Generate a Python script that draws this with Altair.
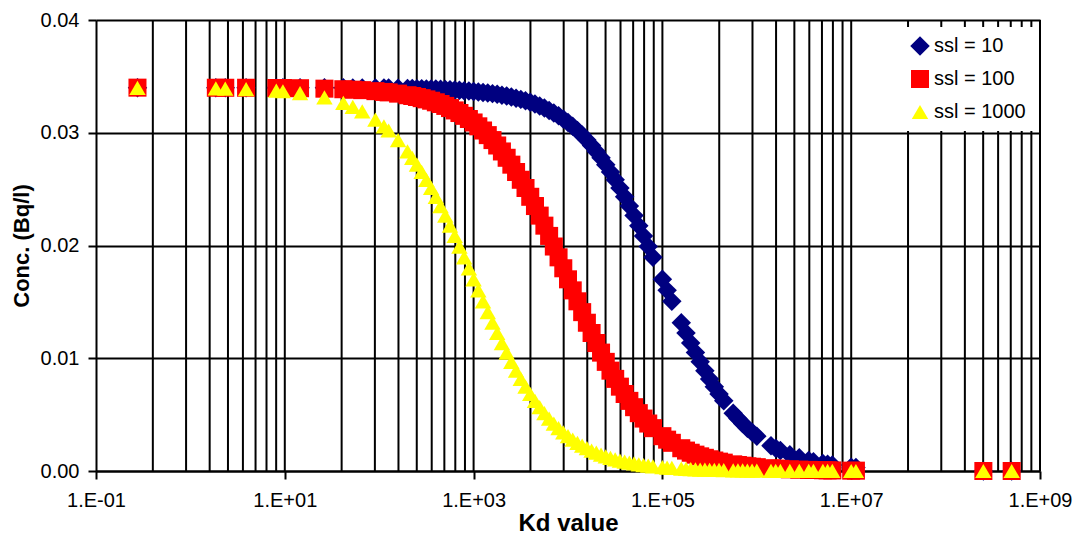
import altair as alt
import pandas as pd

# ---------------- data ----------------
series_names = ["ssl = 10", "ssl = 100", "ssl = 1000"]
series_colors = ["#000080", "#FF0000", "#FFFF00"]
series_shapes = ["diamond", "square", "triangle-up"]
series_sizes = [380, 270, 320]

kd = [0.275, 1.86, 2.34, 3.89, 8.13, 9.55, 14.5, 26.3, 41.7, 52.5, 66.1, 91.2,
      112.2, 125.9, 158.5, 199.5, 223.9, 251.2, 281.8, 316.2, 354.8, 398.1, 446.7,
      501.2, 562.3, 631.0, 707.9, 794.3, 891.3,
      1000, 1122, 1259, 1413, 1585, 1778, 1995, 2239, 2512, 2818, 3162, 3548, 3981,
      4467, 5012, 5623, 6310, 7079, 7943, 8913,
      10000, 11220, 12590, 14130, 15850, 17780, 19950, 22390, 25120, 28180, 31620,
      35480, 39810, 44670, 50120, 56230, 63100, 70790, 79430,
      100000, 112200, 125900, 158500, 177800, 199500, 223900, 251200, 281800, 316200,
      354800, 398100, 446700, 562300, 631000, 707900, 794300, 891300, 1000000,
      1413000, 1585000, 1778000, 2239000, 2818000, 3548000, 3981000, 5012000,
      5623000, 6310000,
      10000000, 11220000, 251200000, 501200000]

conc_ssl10 = [0.03400, 0.03400, 0.03400, 0.03400, 0.03400, 0.03400, 0.03400, 0.03399,
              0.03399, 0.03398, 0.03398, 0.03397,
              0.03396, 0.03396, 0.03395, 0.03393, 0.03392, 0.03391, 0.03390, 0.03389,
              0.03388, 0.03387, 0.03385, 0.03383, 0.03381, 0.03379, 0.03376, 0.03373, 0.03370,
              0.03366, 0.03362, 0.03358, 0.03353, 0.03347, 0.03341, 0.03333, 0.03326,
              0.03317, 0.03307, 0.03296, 0.03284, 0.03270, 0.03255, 0.03238, 0.03219,
              0.03198, 0.03175, 0.03150, 0.03122,
              0.03091, 0.03057, 0.03020, 0.02979, 0.02935, 0.02887, 0.02834, 0.02778,
              0.02717, 0.02652, 0.02583, 0.02510, 0.02432, 0.02350, 0.02265, 0.02176,
              0.02085, 0.01991, 0.01895,
              0.01700, 0.01602, 0.01505, 0.01315, 0.01224, 0.01135, 0.01050, 0.00968,
              0.00890, 0.00817, 0.00748, 0.00683, 0.00622, 0.00513, 0.00465, 0.00421,
              0.00380, 0.00343, 0.00309,
              0.00225, 0.00202, 0.00181, 0.00145, 0.00117, 0.00093, 0.00083, 0.00067,
              0.00059, 0.00053,
              0.00034, 0.00030, 0.00001, 0.0]

conc_ssl100 = [0.03400, 0.03399, 0.03399, 0.03399, 0.03397, 0.03397, 0.03395, 0.03391,
               0.03386, 0.03382, 0.03378, 0.03369,
               0.03362, 0.03358, 0.03347, 0.03333, 0.03326, 0.03317, 0.03307, 0.03296,
               0.03284, 0.03270, 0.03255, 0.03238, 0.03219, 0.03198, 0.03175, 0.03150, 0.03122,
               0.03091, 0.03057, 0.03020, 0.02979, 0.02935, 0.02887, 0.02834, 0.02778,
               0.02717, 0.02652, 0.02583, 0.02510, 0.02432, 0.02350, 0.02265, 0.02176,
               0.02085, 0.01991, 0.01895, 0.01798,
               0.01700, 0.01602, 0.01505, 0.01409, 0.01315, 0.01224, 0.01135, 0.01050,
               0.00968, 0.00890, 0.00817, 0.00748, 0.00683, 0.00622, 0.00566, 0.00513,
               0.00465, 0.00421, 0.00380,
               0.00309, 0.00278, 0.00250, 0.00202, 0.00181, 0.00162, 0.00145, 0.00130,
               0.00117, 0.00104, 0.00093, 0.00083, 0.00074, 0.00059, 0.00053, 0.00047,
               0.00042, 0.00038, 0.00034,
               0.00024, 0.00021, 0.00019, 0.00015, 0.00012, 0.00010, 0.00009, 0.00007,
               0.00006, 0.00005,
               0.00003, 0.00003, 0.0, 0.0]

conc_ssl1000 = [0.03399, 0.03394, 0.03392, 0.03387, 0.03373, 0.03368, 0.03352, 0.03313,
                0.03264, 0.03230, 0.03189, 0.03116,
                0.03057, 0.03020, 0.02935, 0.02834, 0.02778, 0.02717, 0.02652, 0.02583,
                0.02510, 0.02432, 0.02350, 0.02265, 0.02176, 0.02085, 0.01991, 0.01895, 0.01798,
                0.01700, 0.01602, 0.01505, 0.01409, 0.01315, 0.01224, 0.01135, 0.01050,
                0.00968, 0.00890, 0.00817, 0.00748, 0.00683, 0.00622, 0.00566, 0.00513,
                0.00465, 0.00421, 0.00380, 0.00343,
                0.00309, 0.00278, 0.00250, 0.00225, 0.00202, 0.00181, 0.00162, 0.00145,
                0.00130, 0.00117, 0.00104, 0.00093, 0.00083, 0.00074, 0.00067, 0.00059,
                0.00053, 0.00047, 0.00042,
                0.00034, 0.00030, 0.00027, 0.00021, 0.00019, 0.00017, 0.00015, 0.00013,
                0.00012, 0.00011, 0.00010, 0.00009, 0.00008, 0.00006, 0.00005, 0.00005,
                0.00004, 0.00004, 0.00003,
                0.00002, 0.00002, 0.00002, 0.00001, 0.00001, 0.00001, 0.00001, 0.00001,
                0.00001, 0.00001,
                0.0, 0.0, 0.0, 0.0]

x_tick_values = [0.1, 10, 1000, 100000, 10000000, 1000000000]
x_tick_labels = ["1.E-01", "1.E+01", "1.E+03", "1.E+05", "1.E+07", "1.E+09"]
y_tick_values = [0.0, 0.01, 0.02, 0.03, 0.04]

grid_multipliers = [4, 9, 16, 25, 36, 49, 64, 81, 100]
grid_decades = [0.1, 10, 1000, 100000, 10000000]

# ---------------- build tables ----------------
rows = []
for name, vals in zip(series_names, [conc_ssl10, conc_ssl100, conc_ssl1000]):
    for k, c in zip(kd, vals):
        rows.append({"kd": k, "conc": c, "series": name})
df = pd.DataFrame(rows)

grid_df = pd.DataFrame({"g": [d * m for d in grid_decades for m in grid_multipliers]})

label_expr = "'" + x_tick_labels[-1] + "'"
for v, lab in reversed(list(zip(x_tick_values[:-1], x_tick_labels[:-1]))):
    label_expr = f"datum.value < {v * 3} ? '{lab}' : ({label_expr})"

FONT = "Liberation Sans"
LW = 2
x_scale = alt.Scale(type="log", domain=[0.1, 1e9], nice=False)
y_scale = alt.Scale(domain=[0, 0.04], nice=False)

x_axis = alt.Axis(
    values=x_tick_values, labelExpr=label_expr, title="Kd value", grid=False,
    tickSize=8, tickColor="black", tickWidth=LW, labelPadding=11,
    labelFontSize=20, labelFont=FONT, labelColor="black",
    titleFontSize=24, titleFont=FONT, titleFontWeight="bold", titleColor="black",
    titlePadding=1, domainColor="black", domainWidth=LW, labelFlush=False,
)

grid = alt.Chart(grid_df).mark_rule(color="black", strokeWidth=LW).encode(
    x=alt.X("g:Q", scale=x_scale, axis=x_axis, title="Kd value")
)

legend = alt.Legend(
    title=None, orient="none", legendX=805, legendY=7, fillColor="white",
    padding=9, labelFontSize=20, labelFont=FONT, labelColor="black",
    symbolSize=260, symbolStrokeWidth=0, rowPadding=13, labelOffset=4,
    labelLimit=300,
)

points = alt.Chart(df).mark_point(filled=True, opacity=1, strokeWidth=0).encode(
    x=alt.X("kd:Q", scale=x_scale, axis=x_axis, title="Kd value"),
    y=alt.Y("conc:Q", scale=y_scale, axis=alt.Axis(
        values=y_tick_values, format=".2f", title="Conc. (Bq/l)", grid=True,
        gridColor="black", gridWidth=LW, gridOpacity=1,
        tickSize=8, tickColor="black", tickWidth=LW, labelPadding=9,
        labelFontSize=20, labelFont=FONT, labelColor="black",
        titleFontSize=22, titleFont=FONT, titleFontWeight="bold", titleColor="black",
        titlePadding=7, domainColor="black", domainWidth=LW,
    )),
    color=alt.Color("series:N", scale=alt.Scale(domain=series_names, range=series_colors), legend=legend),
    shape=alt.Shape("series:N", scale=alt.Scale(domain=series_names, range=series_shapes), legend=legend),
    size=alt.Size("series:N", scale=alt.Scale(domain=series_names, range=series_sizes), legend=None),
)

chart = alt.layer(grid, points).properties(
    width=944, height=451,
    autosize=alt.AutoSizeParams(type="none"),
    padding={"left": 96, "top": 20, "right": 37, "bottom": 65},
    background="white",
).configure_view(stroke="black", strokeWidth=2).configure(font=FONT)

chart.save("out.html", embed_options={"renderer": "svg", "actions": False})
